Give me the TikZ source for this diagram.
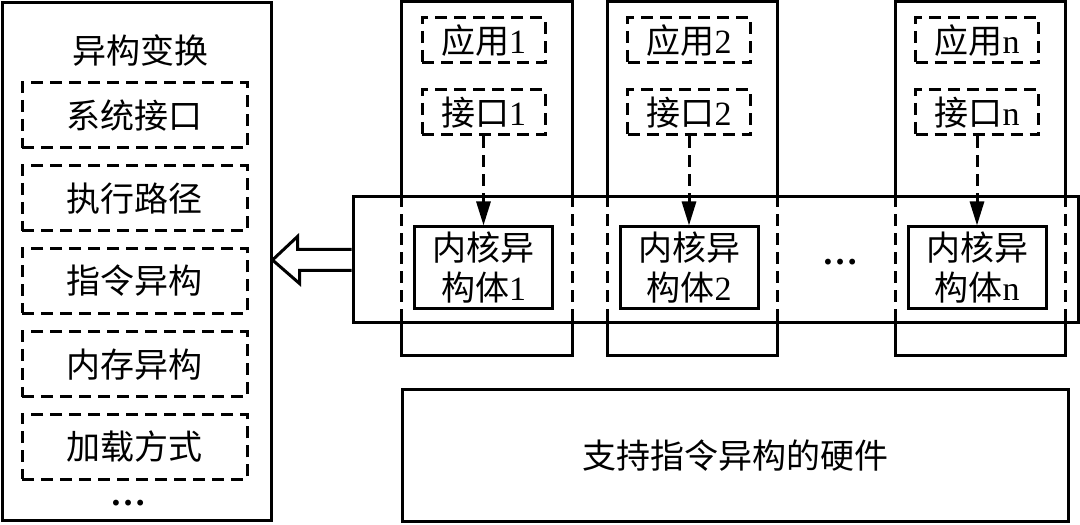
\documentclass[tikz,border=0pt]{standalone}
\usepackage{fontspec}
\setmainfont{Liberation Serif}
\newfontfamily\cjk{Noto Sans CJK SC}
\newcommand{\zh}[1]{{\cjk #1}}
\usetikzlibrary{arrows.meta, positioning}

\begin{document}
\begin{tikzpicture}[x=1pt, y=1pt,
    solidbox/.style={rectangle, draw, line width=3pt, inner sep=0pt, align=center, font=\fontsize{34}{40}\selectfont},
    dashbox/.style={solidbox, dash pattern=on 12pt off 7pt},
    itembox/.style={dashbox, minimum width=225pt, minimum height=65pt},
    appbox/.style={dashbox, minimum width=123pt, minimum height=45pt},
    kernbox/.style={solidbox, minimum width=138pt, minimum height=82pt},
    colbox/.style={rectangle, minimum width=170.5pt, minimum height=353pt},
    txt/.style={inner sep=0pt, font=\fontsize{34}{40}\selectfont},
    dotstxt/.style={inner sep=0pt, anchor=base, font=\fontsize{36}{40}\selectfont\bfseries},
    edge/.style={line width=3pt},
    dashedge/.style={line width=3pt, dash pattern=on 12pt off 7pt},
    arr/.style={-{Triangle[length=24pt, width=14pt]}, line width=3pt, dash pattern=on 12pt off 7pt},
    hollowarr/.style={line width=3pt, line join=miter}]
    \useasboundingbox (0,0) rectangle (1080,525);
    % Left: heterogeneous transformation
    \node[solidbox, minimum width=269pt, minimum height=518pt] (lbox) at (136.5,263) {};
    \node[txt] (ltitle) at (140,475) {\zh{异构变换}};
    \node[itembox] (li1) at (134.5,409.5) {\zh{系统接口}};
    \node[itembox] (li2) at (134.5,326.5) {\zh{执行路径}};
    \node[itembox] (li3) at (134.5,244) {\zh{指令异构}};
    \node[itembox] (li4) at (134.5,160.5) {\zh{内存异构}};
    \node[itembox] (li5) at (134.5,78) {\zh{加载方式}};
    \node[dotstxt] (ldots) at (128,19.5) {\ldots};
    % Columns
    \node[colbox] (c1) at (487,346.5) {};
    \node[colbox] (c2) at (692.5,346.5) {};
    \node[colbox] (c3) at (980.5,346.5) {};
    % Kernel band
    \node[solidbox, minimum width=725pt, minimum height=126pt] (band) at (715.5,265) {};
    % Column 1
    \node[appbox] (app1) at (483.5,484.5) {\zh{应用}1};
    \node[appbox] (if1) at (483.5,412.5) {\zh{接口}1};
    \node[kernbox] (k1) at (483.5,257) {\zh{内核异}\\\zh{构体}1};
    % Column 2
    \node[appbox] (app2) at (689,484.5) {\zh{应用}2};
    \node[appbox] (if2) at (689,412.5) {\zh{接口}2};
    \node[kernbox] (k2) at (689,257) {\zh{内核异}\\\zh{构体}2};
    % Column n
    \node[appbox] (app3) at (977,484.5) {\zh{应用}n};
    \node[appbox] (if3) at (977,412.5) {\zh{接口}n};
    \node[kernbox] (k3) at (977,257) {\zh{内核异}\\\zh{构体}n};
    \node[dotstxt] (mdots) at (840,260.5) {\ldots};
    % Hardware
    \node[solidbox, minimum width=666pt, minimum height=132pt] (hw) at (735,69) {\zh{支持指令异构的硬件}};
    % Column borders
    \foreach \c in {c1,c2,c3} {
      \draw[edge] (\c.west |- band.north) |- (\c.north east) -- (\c.east |- band.north);
      \draw[dashedge] (\c.west |- band.north) -- (\c.west |- band.south);
      \draw[dashedge] (\c.east |- band.north) -- (\c.east |- band.south);
      \draw[edge] (\c.west |- band.south) |- (\c.south east) -- (\c.east |- band.south);
    }
    % Arrows
    \draw[arr] (if1.south) -- (k1.north);
    \draw[arr] (if2.south) -- (k2.north);
    \draw[arr] (if3.south) -- (k3.north);
    \draw[hollowarr] ([yshift=10.5pt]band.west) -- ++(-54,0) -- ++(0,13)
      -- (lbox.east |- band.west) -- ++(27,-23.5) -- ++(0,13) -- ([yshift=-10.5pt]band.west);
  \end{tikzpicture}
\end{document}
